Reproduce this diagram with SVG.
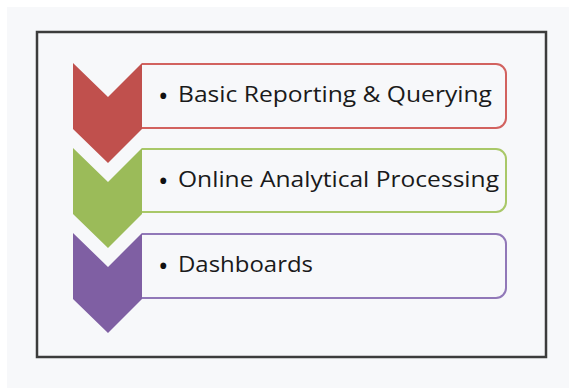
<svg xmlns="http://www.w3.org/2000/svg" width="569" height="388" viewBox="0 0 569 388">
<style>
.t{font-family:"Open Sans","Noto Sans",sans-serif;font-size:22px;fill:#1a1a1a}
.b{font-family:"Open Sans","Noto Sans",sans-serif;font-size:28px;fill:#111}
.box{stroke-width:2;fill:#f7f8fa}
</style>
<rect x="0" y="0" width="569" height="388" fill="#ffffff"/>
<rect x="7" y="7" width="562" height="381" fill="#f7f8fa"/>
<rect x="37" y="32" width="509" height="325" fill="#f7f8fa" stroke="#3c3c3c" stroke-width="2.5"/>
<g id="node1">
<path class="box" d="M142,64 H496 A10,10 0 0 1 506,74 V118 A10,10 0 0 1 496,128 H142" stroke="#d2625f"/>
<polygon points="73,63 108,97 142,63 142,129 108,163 73,129" fill="#c0504d"/>
<text class="b" x="158" y="106">•</text>
<text class="t" x="178" y="102" textLength="314" lengthAdjust="spacingAndGlyphs">Basic Reporting &amp; Querying</text>
</g>
<g id="node2">
<path class="box" d="M142,149 H496 A10,10 0 0 1 506,159 V202 A10,10 0 0 1 496,212 H142" stroke="#a9c868"/>
<polygon points="73,148 108,182 142,148 142,214 108,248 73,214" fill="#9bbb59"/>
<text class="b" x="158" y="191">•</text>
<text class="t" x="178" y="187" textLength="321" lengthAdjust="spacingAndGlyphs">Online Analytical Processing</text>
</g>
<g id="node3">
<path class="box" d="M142,234 H496 A10,10 0 0 1 506,244 V288 A10,10 0 0 1 496,298 H142" stroke="#9178b8"/>
<polygon points="73,233 108,267 142,233 142,299 108,333 73,299" fill="#7f5fa3"/>
<text class="b" x="158" y="276">•</text>
<text class="t" x="178" y="272" textLength="135" lengthAdjust="spacingAndGlyphs">Dashboards</text>
</g>
<g id="connectors"></g>
</svg>
